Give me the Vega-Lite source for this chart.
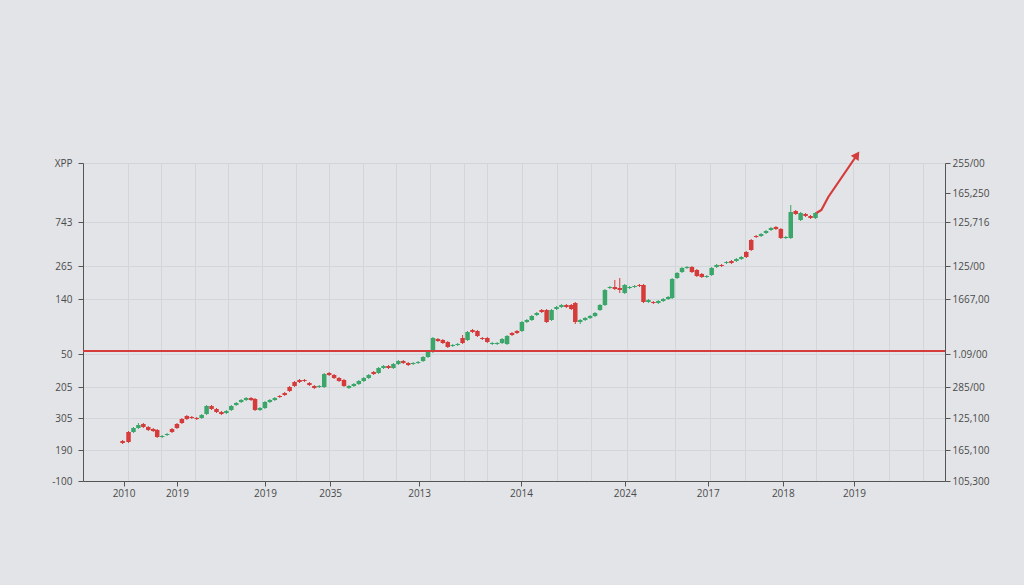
{
  "$schema": "https://vega.github.io/schema/vega-lite/v6.json",
  "width": 862,
  "height": 318,
  "autosize": {"type": "none"},
  "padding": {"left": 83, "top": 163, "right": 79, "bottom": 104},
  "background": "#e2e4e7",
  "config": {
    "view": {"stroke": null},
    "axis": {"labelFont": "Open Sans", "labelFontSize": 10, "labelColor": "#4a4a4a", "domainColor": "#555", "tickColor": "#555", "gridColor": "#d2d5d9", "gridWidth": 1, "title": null}
  },
  "datasets": {
    "candles": [
      {"t":35,"o":40,"c":38,"h":41,"l":37},{"t":41,"o":49,"c":39,"h":50,"l":38},{"t":46,"o":49,"c":53,"h":54,"l":48},{"t":51,"o":53,"c":56,"h":58,"l":52},{"t":56,"o":57,"c":54,"h":58,"l":53},{"t":61,"o":54,"c":51,"h":55,"l":50},{"t":66,"o":52,"c":50,"h":53,"l":49},{"t":70,"o":51,"c":44,"h":52,"l":43},{"t":75,"o":44,"c":45,"h":46,"l":43},{"t":80,"o":46,"c":47,"h":48,"l":45},
      {"t":85,"o":52,"c":49,"h":53,"l":48},{"t":90,"o":57,"c":53,"h":58,"l":52},{"t":95,"o":62,"c":58,"h":63,"l":57},{"t":100,"o":65,"c":62,"h":66,"l":61},{"t":105,"o":64,"c":63,"h":65,"l":62},{"t":110,"o":63,"c":62,"h":64,"l":61},{"t":115,"o":63,"c":66,"h":67,"l":62},{"t":120,"o":67,"c":75,"h":76,"l":66},{"t":125,"o":75,"c":72,"h":76,"l":71},{"t":130,"o":72,"c":69,"h":73,"l":68},
      {"t":135,"o":69,"c":67,"h":70,"l":66},{"t":140,"o":68,"c":70,"h":71,"l":67},{"t":145,"o":71,"c":75,"h":76,"l":70},{"t":150,"o":76,"c":78,"h":79,"l":75},{"t":155,"o":79,"c":81,"h":82,"l":78},{"t":160,"o":81,"c":83,"h":84,"l":80},{"t":165,"o":83,"c":81,"h":84,"l":80},{"t":169,"o":82,"c":71,"h":83,"l":70},{"t":174,"o":71,"c":73,"h":74,"l":70},{"t":179,"o":73,"c":79,"h":80,"l":72},
      {"t":184,"o":79,"c":81,"h":82,"l":78},{"t":189,"o":81,"c":83,"h":84,"l":80},{"t":194,"o":85,"c":84,"h":86,"l":83},{"t":199,"o":88,"c":86,"h":89,"l":85},{"t":204,"o":94,"c":90,"h":95,"l":89},{"t":209,"o":99,"c":95,"h":100,"l":94},{"t":214,"o":101,"c":99,"h":102,"l":98},{"t":219,"o":101,"c":100,"h":102,"l":99},{"t":224,"o":98,"c":96,"h":99,"l":95},{"t":229,"o":95,"c":93,"h":96,"l":92},
      {"t":234,"o":94,"c":95,"h":96,"l":93},{"t":239,"o":94,"c":107,"h":108,"l":93},{"t":244,"o":108,"c":106,"h":109,"l":105},{"t":249,"o":106,"c":103,"h":107,"l":102},{"t":254,"o":103,"c":100,"h":104,"l":99},{"t":259,"o":101,"c":95,"h":102,"l":94},{"t":264,"o":93,"c":95,"h":96,"l":92},{"t":269,"o":95,"c":97,"h":98,"l":94},{"t":274,"o":97,"c":100,"h":101,"l":96},{"t":279,"o":100,"c":103,"h":104,"l":99},
      {"t":284,"o":103,"c":106,"h":107,"l":102},{"t":289,"o":109,"c":107,"h":110,"l":106},{"t":294,"o":108,"c":113,"h":114,"l":107},{"t":299,"o":113,"c":115,"h":116,"l":112},{"t":304,"o":115,"c":113,"h":116,"l":112},{"t":309,"o":113,"c":117,"h":118,"l":112},{"t":314,"o":117,"c":120,"h":121,"l":116},{"t":319,"o":120,"c":118,"h":121,"l":117},{"t":324,"o":118,"c":116,"h":119,"l":115},{"t":329,"o":117,"c":118,"h":119,"l":116},
      {"t":334,"o":118,"c":119,"h":120,"l":117},{"t":339,"o":120,"c":124,"h":125,"l":119},{"t":344,"o":124,"c":129,"h":130,"l":123},{"t":349,"o":129,"c":143,"h":144,"l":128},{"t":354,"o":142,"c":140,"h":143,"l":139},{"t":359,"o":141,"c":138,"h":142,"l":137},{"t":364,"o":139,"c":134,"h":140,"l":133},{"t":369,"o":135,"c":136,"h":137,"l":134},{"t":374,"o":136,"c":137,"h":138,"l":135},{"t":379,"o":143,"c":138,"h":146,"l":137},
      {"t":384,"o":141,"c":149,"h":150,"l":140},{"t":389,"o":151,"c":149,"h":152,"l":148},{"t":394,"o":150,"c":145,"h":151,"l":144},{"t":399,"o":143,"c":142,"h":144,"l":141},{"t":404,"o":143,"c":139,"h":144,"l":138},{"t":409,"o":137,"c":138,"h":139,"l":136},{"t":414,"o":137,"c":138,"h":139,"l":136},{"t":419,"o":138,"c":142,"h":143,"l":137},{"t":424,"o":137,"c":145,"h":146,"l":136},{"t":429,"o":148,"c":146,"h":149,"l":145},
      {"t":434,"o":150,"c":148,"h":151,"l":147},{"t":439,"o":150,"c":159,"h":160,"l":149},{"t":444,"o":159,"c":161,"h":162,"l":158},{"t":449,"o":161,"c":165,"h":166,"l":160},{"t":454,"o":166,"c":168,"h":169,"l":165},{"t":459,"o":171,"c":169,"h":172,"l":168},{"t":464,"o":171,"c":159,"h":172,"l":158},{"t":469,"o":161,"c":171,"h":172,"l":160},{"t":474,"o":172,"c":174,"h":175,"l":171},{"t":479,"o":174,"c":176,"h":177,"l":173},
      {"t":484,"o":176,"c":174,"h":177,"l":173},{"t":489,"o":176,"c":172,"h":177,"l":171},{"t":493,"o":178,"c":159,"h":179,"l":157},{"t":498,"o":159,"c":161,"h":162,"l":157},{"t":503,"o":161,"c":163,"h":164,"l":160},{"t":508,"o":163,"c":165,"h":166,"l":162},{"t":513,"o":165,"c":168,"h":169,"l":164},{"t":518,"o":171,"c":176,"h":177,"l":170},{"t":523,"o":176,"c":191,"h":192,"l":175},{"t":528,"o":193,"c":194,"h":195,"l":192},
      {"t":533,"o":194,"c":192,"h":201,"l":191},{"t":538,"o":193,"c":191,"h":203,"l":188},{"t":543,"o":188,"c":196,"h":197,"l":187},{"t":548,"o":193,"c":194,"h":195,"l":192},{"t":553,"o":194,"c":195,"h":196,"l":193},{"t":558,"o":196,"c":195,"h":197,"l":194},{"t":562,"o":196,"c":179,"h":197,"l":178},{"t":567,"o":179,"c":181,"h":182,"l":178},{"t":572,"o":179,"c":178,"h":180,"l":177},{"t":577,"o":178,"c":180,"h":181,"l":177},
      {"t":582,"o":180,"c":182,"h":183,"l":179},{"t":587,"o":182,"c":184,"h":185,"l":181},{"t":591,"o":183,"c":202,"h":203,"l":182},{"t":596,"o":203,"c":208,"h":209,"l":202},{"t":601,"o":209,"c":213,"h":214,"l":208},{"t":606,"o":213,"c":214,"h":215,"l":212},{"t":611,"o":214,"c":209,"h":215,"l":208},{"t":616,"o":211,"c":205,"h":212,"l":204},{"t":621,"o":207,"c":204,"h":208,"l":203},{"t":626,"o":204,"c":205,"h":206,"l":203},
      {"t":631,"o":206,"c":213,"h":214,"l":205},{"t":636,"o":214,"c":216,"h":217,"l":213},{"t":641,"o":216,"c":215,"h":217,"l":214},{"t":646,"o":218,"c":219,"h":220,"l":217},{"t":651,"o":220,"c":218,"h":221,"l":217},{"t":656,"o":220,"c":222,"h":223,"l":219},{"t":661,"o":222,"c":224,"h":225,"l":221},{"t":666,"o":229,"c":224,"h":230,"l":223},{"t":671,"o":241,"c":231,"h":242,"l":230},{"t":676,"o":245,"c":244,"h":246,"l":243},
      {"t":681,"o":245,"c":247,"h":248,"l":244},{"t":686,"o":248,"c":250,"h":251,"l":247},{"t":691,"o":251,"c":253,"h":254,"l":250},{"t":696,"o":254,"c":252,"h":255,"l":251},{"t":701,"o":252,"c":243,"h":253,"l":242},{"t":706,"o":243,"c":244,"h":245,"l":242},{"t":711,"o":243,"c":269,"h":276,"l":242},{"t":716,"o":270,"c":267,"h":271,"l":266},{"t":721,"o":261,"c":268,"h":269,"l":260},{"t":726,"o":267,"c":265,"h":268,"l":264},
      {"t":731,"o":265,"c":263,"h":266,"l":262},{"t":736,"o":263,"c":268,"h":269,"l":262}
    ],
    "arrow": [{"t":737,"p":268},{"t":742,"p":271},{"t":749,"p":284},{"t":778,"p":326}],
    "head": [{"t":778,"p":326}],
    "level": [{"p":130}]
  },
  "resolve": {"axis": {"x": "independent", "y": "independent"}},
  "layer": [
    {
      "data": {"name": "candles"},
      "mark": {"type": "rule", "strokeWidth": 1},
      "encoding": {
        "x": {"field": "t", "type": "quantitative", "scale": {"domain": [0, 862], "nice": false, "zero": false},
          "axis": {"orient": "top", "labels": false, "ticks": false, "domain": false, "grid": true,
            "values": [40,74,108,142,176,210,244,278,312,346,380,404,439,474,509,545,594,629,665,702,737,774,810,845]}},
        "y": {"field": "l", "type": "quantitative", "scale": {"domain": [0, 318], "nice": false, "zero": false},
          "axis": {"orient": "left", "grid": true, "labelPadding": 6, "values": [0,31,63,94,127,182,215,259,318],
            "labelExpr": "{'0':'-100','31':'190','63':'305','94':'205','127':'50','182':'140','215':'265','259':'743','318':'XPP'}[datum.value]"}},
        "y2": {"field": "h"},
        "color": {"condition": {"test": "datum.c >= datum.o", "value": "#3aa66a"}, "value": "#d63b3b"}
      }
    },
    {
      "data": {"name": "candles"},
      "mark": {"type": "bar", "size": 4.5},
      "encoding": {
        "x": {"field": "t", "type": "quantitative", "scale": {"domain": [0, 862], "nice": false, "zero": false},
          "axis": {"orient": "bottom", "grid": false, "values": [36,90,179,245,335,438,543,627,703,775],
            "labelExpr": "{'36':'2010','90':'2019','179':'2019','245':'2035','335':'2013','438':'2014','543':'2024','627':'2017','703':'2018','775':'2019'}[datum.value]"}},
        "y": {"field": "o", "type": "quantitative", "scale": {"domain": [0, 318], "nice": false, "zero": false},
          "axis": {"orient": "right", "grid": false, "values": [0,31,63,94,127,182,215,259,288,318],
            "labelExpr": "{'0':'105,300','31':'165,100','63':'125,100','94':'285/00','127':'1.09/00','182':'1667,00','215':'125/00','259':'125,716','288':'165,250','318':'255/00'}[datum.value]"}},
        "y2": {"field": "c"},
        "color": {"condition": {"test": "datum.c >= datum.o", "value": "#3aa66a"}, "value": "#d63b3b"}
      }
    },
    {
      "data": {"name": "level"},
      "mark": {"type": "rule", "color": "#d63b3b", "strokeWidth": 2},
      "encoding": {
        "y": {"field": "p", "type": "quantitative", "scale": {"domain": [0, 318], "nice": false, "zero": false}, "axis": null}
      }
    },
    {
      "data": {"name": "arrow"},
      "mark": {"type": "line", "color": "#d63b3b", "strokeWidth": 2.2},
      "encoding": {
        "x": {"field": "t", "type": "quantitative", "scale": {"domain": [0, 862], "nice": false, "zero": false}, "axis": null},
        "y": {"field": "p", "type": "quantitative", "scale": {"domain": [0, 318], "nice": false, "zero": false}, "axis": null}
      }
    },
    {
      "data": {"name": "head"},
      "mark": {"type": "point", "shape": "triangle-up", "filled": true, "color": "#d63b3b", "size": 90, "angle": 34, "opacity": 1},
      "encoding": {
        "x": {"field": "t", "type": "quantitative", "scale": {"domain": [0, 862], "nice": false, "zero": false}, "axis": null},
        "y": {"field": "p", "type": "quantitative", "scale": {"domain": [0, 318], "nice": false, "zero": false}, "axis": null}
      }
    }
  ]
}
